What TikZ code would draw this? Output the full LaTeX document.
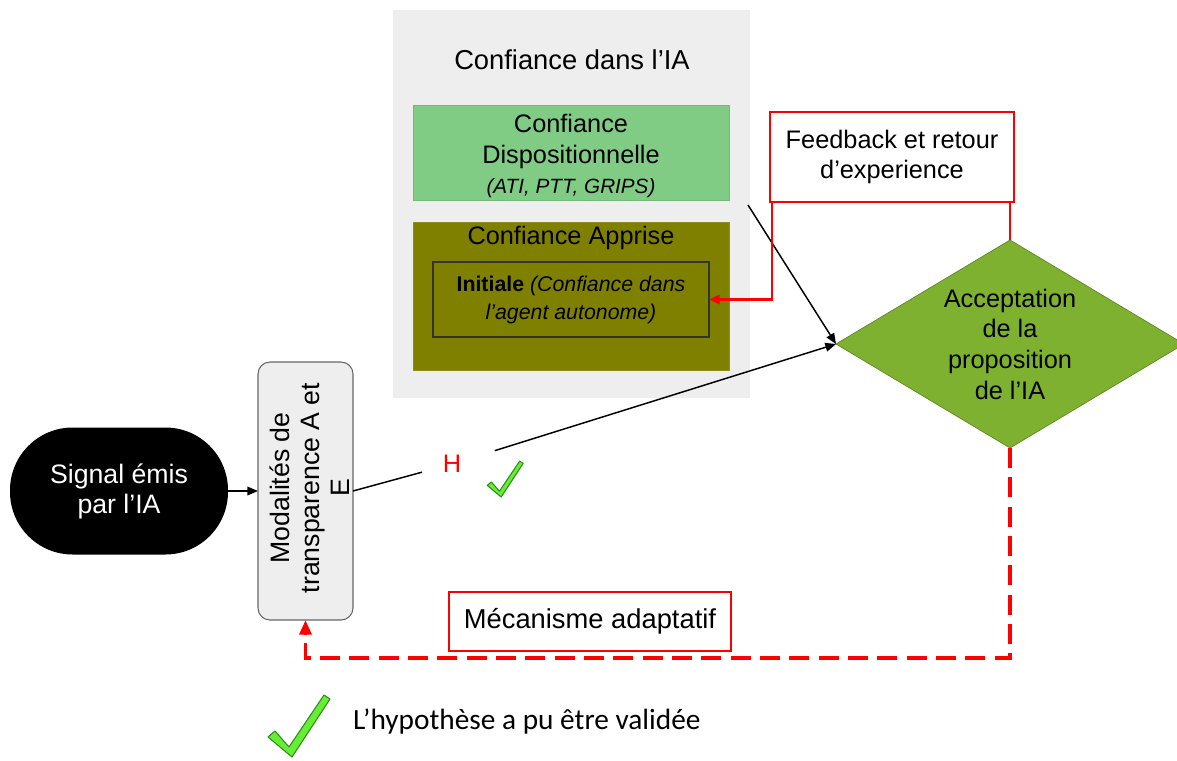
\documentclass[tikz,border=0pt]{standalone}
\usepackage{fontspec}
\setmainfont{Liberation Sans}
\newfontfamily\legendfont{Carlito}
\usetikzlibrary{positioning,arrows.meta,shapes.geometric,calc}
\definecolor{panelgray}{HTML}{EEEEEE}
\definecolor{dispgreen}{HTML}{80CC85}
\definecolor{learnolive}{HTML}{808000}
\definecolor{acceptgreen}{HTML}{7DB12F}
\definecolor{tickgreen}{HTML}{66EE33}
\definecolor{tickedge}{HTML}{2E8B1E}
\newcommand{\fs}[2]{\fontsize{#1}{#2}\selectfont}
\tikzset{checkmark/.pic={
  \filldraw[fill=tickgreen,draw=tickedge,line width=.8pt,line join=round]
    (-22,-20) -- (-15,-26) -- (-1,-10) -- (34,-62) -- (40,-58) -- (2,0) -- cycle;}}

\begin{document}
\begin{tikzpicture}[x=.75pt,y=-.75pt,
  font=\fs{19}{23},
  every node/.style={inner sep=0,outer sep=0},
  panel/.style={fill=panelgray,minimum width=267.75pt,minimum height=291pt},
  dispbox/.style={fill=dispgreen,draw=dispgreen!90!black,line width=.4pt,
                  minimum width=237pt,minimum height=71.25pt,align=center},
  learnbox/.style={fill=learnolive,draw=learnolive!90!white,line width=.4pt,
                   minimum width=237pt,minimum height=111pt},
  initbox/.style={draw=black!80,line width=.9pt,minimum width=207pt,
                  minimum height=56.25pt,align=center,font=\fs{16}{21}},
  redbox/.style={draw=red,fill=white,line width=.9pt,align=center},
  decision/.style={diamond,aspect=1.67,fill=acceptgreen,draw=acceptgreen!75!black,
                   line width=.5pt,minimum width=261pt,minimum height=156pt,align=center},
  signalbox/.style={fill=black,text=white,rounded corners=47pt,minimum width=163.5pt,
                    minimum height=95.25pt,align=center,font=\fs{20}{22.5}},
  modalbox/.style={fill=panelgray,draw=black!60,line width=.8pt,rounded corners=9pt,
                   minimum width=71.25pt,minimum height=193.5pt},
  line/.style={black,line width=1.1pt},
  arrow/.style={line,-{Triangle[length=8pt,width=6.5pt]}},
  fbline/.style={red,line width=1.7pt},
  loopline/.style={red,line width=2.6pt,dash pattern=on 15pt off 7pt,
                   -{Triangle[length=11pt,width=9pt]}}]
\useasboundingbox (0,0) rectangle (1177,760);

% trust panel
\node[panel] (panel) at (571.5,204) {};
\node[font=\fs{20.5}{24}] (paneltitle) at (572,60) {Confiance dans l’IA};
\node[dispbox] (disp) at (571,152.5) {};
\node[align=center] (disptext) at (571,156) {Confiance\\Dispositionnelle\\
  {\fs{15.5}{19}\itshape (ATI, PTT, GRIPS)}};
\node[learnbox] (learn) at (571,296) {};
\node (learntitle) at (571,238) {Confiance Apprise};
\node[initbox] (initiale) at (571,299.5)
  {\textbf{Initiale} \textit{(Confiance dans}\\\textit{l’agent autonome)}};

% decision and feedback
\node[redbox,minimum width=183pt,minimum height=67.5pt] (feedback) at (892,157)
  {Feedback et retour\\d’experience};
\node[decision] (accept) at (1010,344) {Acceptation\\de la\\proposition\\de l’IA};

% signal chain
\node[signalbox] (signal) at (119,491) {Signal émis\\par l’IA};
\node[modalbox] (modal) at (305.5,491) {};
\node[font=\fs{20}{22.5},rotate=90] (modaltext) at (313,488)
  {\begin{tabular}{@{}c@{}}Modalités de\\transparence A et\\E\end{tabular}};
\node[text=red,minimum width=45pt,minimum height=20pt] (hyp) at (452,464) {H};
\pic[scale=.58] (hyptick) at (500,497) {checkmark};

\node[redbox,minimum width=211.5pt,minimum height=44.25pt,font=\fs{20.5}{24}]
  (adapt) at (590,621.5) {Mécanisme adaptatif};

\coordinate (dispout) at (748,205);
\coordinate (loopy) at (0,658);

\draw[arrow] (signal) -- (modal);
\draw[line] (modal.east) -- (hyp);
\draw[arrow,shorten <=10pt] (hyp) -- (accept.west);
\draw[arrow] (dispout) -- (accept.west);
\draw[fbline] (accept.north) -- (accept.north |- feedback.south);
\draw[fbline,-{Triangle[length=8pt,width=7pt]}]
  ([xshift=1.5pt]feedback.south west) |- (initiale.east);
\draw[loopline] (accept.south) -- (accept.south |- loopy) -| (modal.south);

% legend
\pic (legendtick) at (290,757) {checkmark};
\node[anchor=west,font=\legendfont\fs{22}{26}] (legend) at (353,722)
  {L’hypothèse a pu être validée};
\end{tikzpicture}
\end{document}
